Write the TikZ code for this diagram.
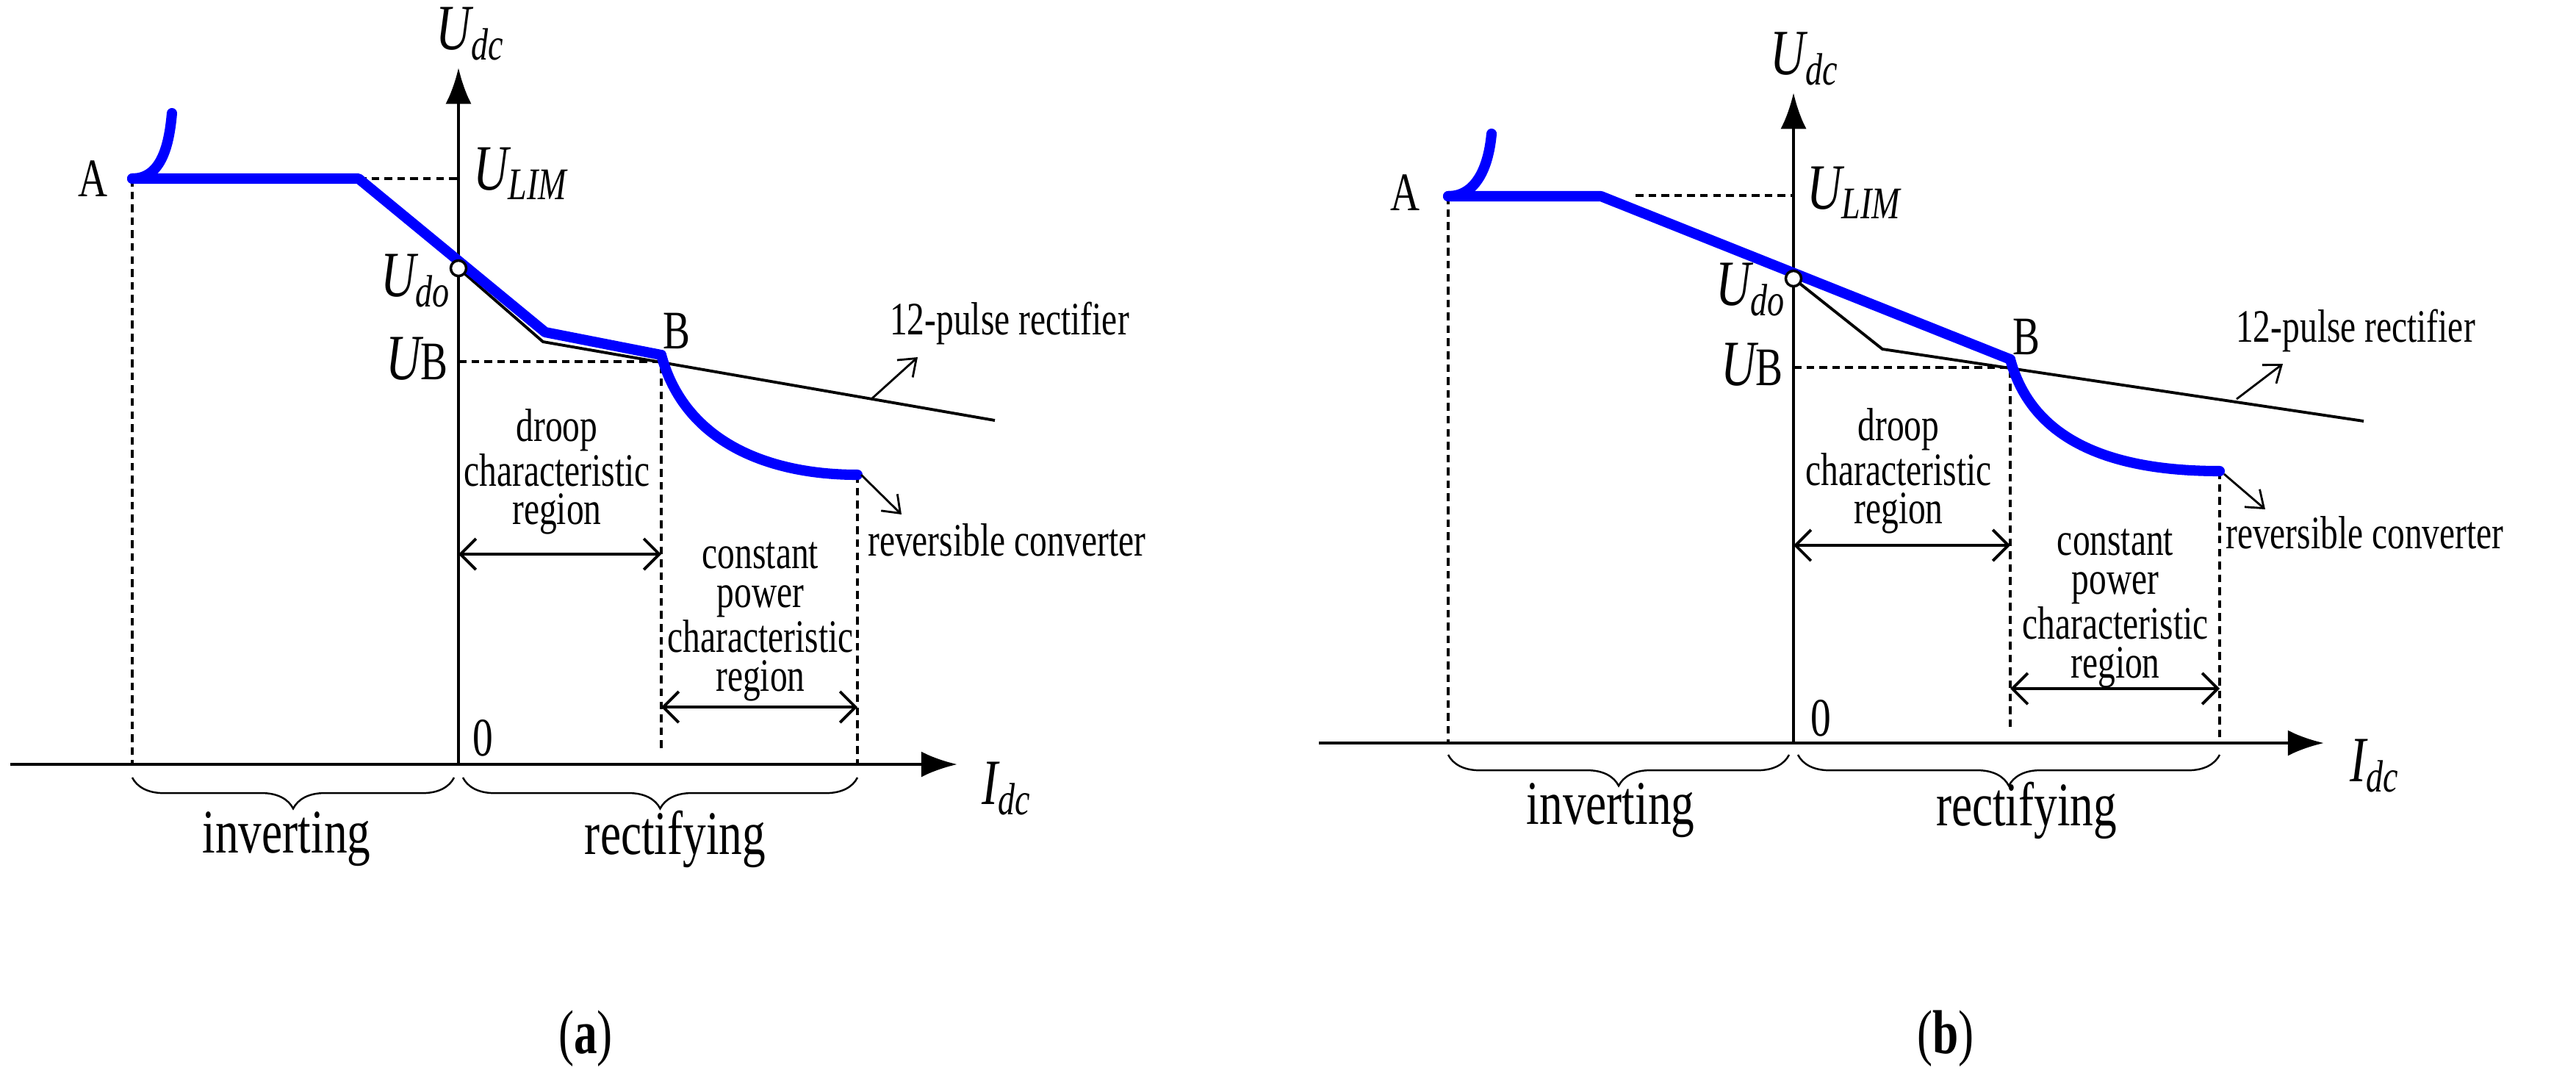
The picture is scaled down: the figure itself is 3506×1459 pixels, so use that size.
\documentclass[tikz,border=0pt]{standalone}
\usepackage{fontspec}
\setmainfont{Liberation Serif}[FakeStretch=0.75]
\usetikzlibrary{arrows.meta,decorations.pathreplacing}

\tikzset{
  axis/.style={line width=1.4pt,-{Latex[length=14pt,width=10pt]}},
  curve/.style={blue,line width=4pt,line cap=round,line join=round},
  char/.style={line width=1.1pt},
  guide/.style={line width=1pt,dash pattern=on 3pt off 2pt},
  span/.style={line width=1.1pt,{Straight Barb[length=6pt,width=12pt]}-{Straight Barb[length=6pt,width=12pt]}},
  pointer/.style={line width=0.8pt,-{Straight Barb[length=6pt,width=9pt]}},
  brc/.style={line width=0.7pt,decorate,decoration={brace,mirror,amplitude=12pt}},
  lbl/.style={inner sep=1pt,font=\fontsize{21}{24}\selectfont},
  vlbl/.style={inner sep=1pt,font=\fontsize{25}{28}\selectfont\itshape},
  txt/.style={inner sep=1pt,align=center,font=\fontsize{18}{15}\selectfont},
  big/.style={inner sep=1pt,font=\fontsize{24}{28}\selectfont},
}
\newcommand{\ubee}{U{\upshape\fontsize{21}{24}\selectfont B}}

\begin{document}
\begin{tikzpicture}[x=0.01cm,y=-0.01cm]
  \useasboundingbox (0,0) rectangle (3506,1459);

  % ---------- (a) ----------
  \coordinate (aX0) at (14,1040);  \coordinate (aX1) at (1303,1040);
  \coordinate (aY0) at (624,1040); \coordinate (aY1) at (624,92);
  \coordinate (aA) at (180,243);   \coordinate (aH) at (234,154);
  \coordinate (aL) at (488,243);   \coordinate (aLy) at (624,243);
  \coordinate (aD) at (624,365);   \coordinate (aK) at (742,452);
  \coordinate (aB) at (900,483);   \coordinate (aBy) at (624,492);
  \coordinate (aBk) at (739,465);  \coordinate (aE) at (1354,572);
  \coordinate (aC) at (1167,646);
  \coordinate (aAd) at (180,1040); \coordinate (aBd) at (900,1023);
  \coordinate (aCd) at (1167,1040);

  \draw[axis] (aX0) -- (aX1);
  \draw[axis] (aY0) -- (aY1);
  \draw[guide] (aA) -- (aAd);
  \draw[guide] (aL) -- (aLy);
  \draw[guide] (aBy) -- (900,492) -- (aBd);
  \draw[guide] (aC) -- (aCd);
  \draw[char] (aD) -- (aBk) -- (aE);
  \draw[curve] (aA) to[out=0,in=-95] (aH);
  \draw[curve] (aA) -- (aL) -- (aK) -- (aB);
  \draw[curve] (aB) to[out=-75,in=180] (aC);
  \draw[line width=1pt,fill=white] (aD) circle (3pt);
  \draw[span] (624,754) -- (900,754);
  \draw[span] (900,962) -- (1167,962);
  \draw[pointer] (1187,542) -- (1249,486);
  \draw[pointer] (1172,646) -- (1227,700);
  \draw[brc] (180,1058) -- (618,1058);
  \draw[brc] (630,1058) -- (1167,1058);

  \node[vlbl] (aUdc) at (640,46) {U\textsubscript{dc}};
  \node[vlbl,anchor=west] (aUlim) at (640,236) {U\textsubscript{LIM}};
  \node[vlbl,anchor=east] (aUdo) at (618,382) {U\textsubscript{do}};
  \node[vlbl,anchor=east] (aUB) at (614,488) {\ubee};
  \node[lbl] (aAl) at (126,243) {A};
  \node[lbl] (aBl) at (921,450) {B};
  \node[lbl] (aOl) at (657,1004) {0};
  \node[vlbl] (aIdc) at (1370,1073) {I\textsubscript{dc}};
  \node[txt] (aDroop) at (758,642) {droop\\characteristic\\region};
  \node[txt] (aConst) at (1035,846) {constant\\power\\characteristic\\region};
  \node[txt,anchor=west] (aRect) at (1207,440) {12-pulse rectifier};
  \node[txt,anchor=west] (aConv) at (1177,735) {reversible converter};
  \node[big] (aInv) at (390,1142) {inverting};
  \node[big] (aRecl) at (919,1142) {rectifying};
  \node[big] (aCap) at (797,1413) {(\textbf{a})};

  % ---------- (b) ----------
  \coordinate (bX0) at (1795,1011); \coordinate (bX1) at (3163,1011);
  \coordinate (bY0) at (2441,1011); \coordinate (bY1) at (2441,126);
  \coordinate (bA) at (1971,267);   \coordinate (bH) at (2030,182);
  \coordinate (bL) at (2179,267);   \coordinate (bLd) at (2226,266);
  \coordinate (bLy) at (2441,266);
  \coordinate (bD) at (2441,379);   \coordinate (bB) at (2736,489);
  \coordinate (bBy) at (2441,500);  \coordinate (bBk) at (2562,475);
  \coordinate (bE) at (3217,573);   \coordinate (bC) at (3021,641);
  \coordinate (bAd) at (1971,1011); \coordinate (bBd) at (2736,992);
  \coordinate (bCd) at (3021,1011);

  \draw[axis] (bX0) -- (bX1);
  \draw[axis] (bY0) -- (bY1);
  \draw[guide] (bA) -- (bAd);
  \draw[guide] (bLd) -- (bLy);
  \draw[guide] (bBy) -- (2736,500) -- (bBd);
  \draw[guide] (bC) -- (bCd);
  \draw[char] (bD) -- (bBk) -- (bE);
  \draw[curve] (bA) to[out=0,in=-95] (bH);
  \draw[curve] (bA) -- (bL) -- (bB);
  \draw[curve] (bB) to[out=-75,in=180] (bC);
  \draw[line width=1pt,fill=white] (bD) circle (3pt);
  \draw[span] (2441,742) -- (2736,742);
  \draw[span] (2736,937) -- (3021,937);
  \draw[pointer] (3044,543) -- (3107,495);
  \draw[pointer] (3027,645) -- (3083,693);
  \draw[brc] (1971,1027) -- (2435,1027);
  \draw[brc] (2447,1027) -- (3021,1027);

  \node[vlbl] (bUdc) at (2456,80) {U\textsubscript{dc}};
  \node[vlbl,anchor=west] (bUlim) at (2455,262) {U\textsubscript{LIM}};
  \node[vlbl,anchor=east] (bUdo) at (2435,394) {U\textsubscript{do}};
  \node[vlbl,anchor=east] (bUB) at (2431,496) {\ubee};
  \node[lbl] (bAl) at (1912,262) {A};
  \node[lbl] (bBl) at (2758,458) {B};
  \node[lbl] (bOl) at (2478,977) {0};
  \node[vlbl] (bIdc) at (3232,1042) {I\textsubscript{dc}};
  \node[txt] (bDroop) at (2584,641) {droop\\characteristic\\region};
  \node[txt] (bConst) at (2879,828) {constant\\power\\characteristic\\region};
  \node[txt] (bRect) at (3206,450) {12-pulse rectifier};
  \node[txt,anchor=west] (bConv) at (3025,725) {reversible converter};
  \node[big] (bInv) at (2192,1103) {inverting};
  \node[big] (bRecl) at (2758,1103) {rectifying};
  \node[big] (bCap) at (2648,1413) {(\textbf{b})};
\end{tikzpicture}
\end{document}
